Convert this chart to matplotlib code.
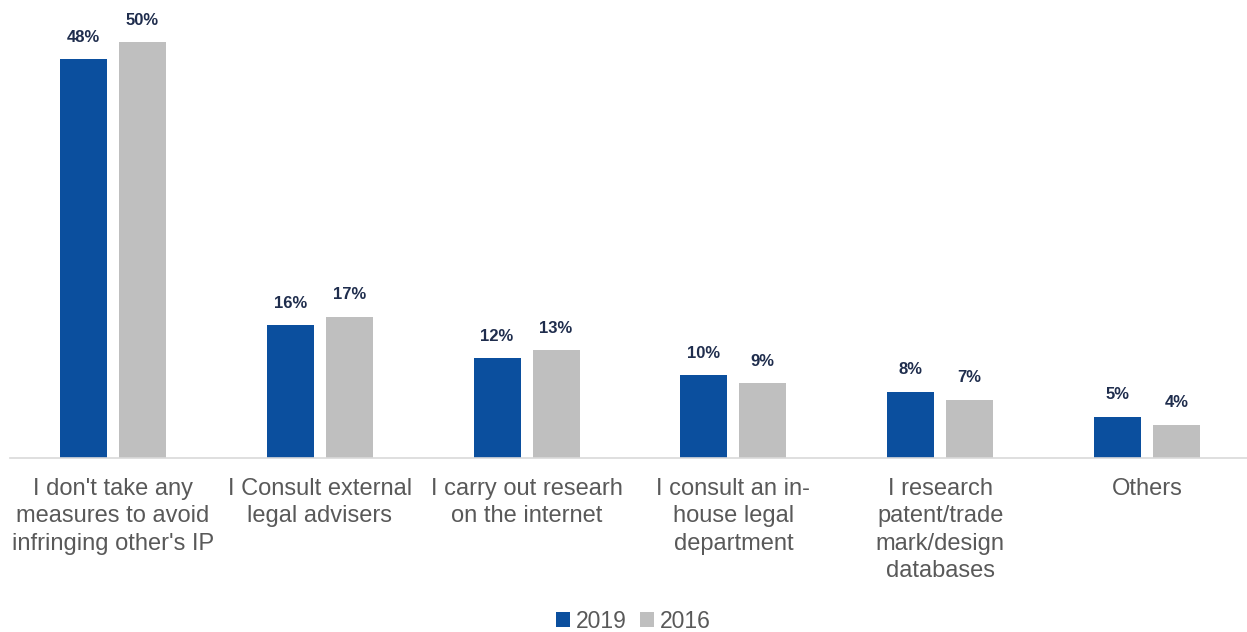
import matplotlib.pyplot as plt
import numpy as np

plt.rcParams['font.family'] = ['Liberation Sans', 'DejaVu Sans']

categories = [
    "I don't take any\nmeasures to avoid\ninfringing other's IP",
    "I Consult external\nlegal advisers",
    "I carry out researh\non the internet",
    "I consult an in-\nhouse legal\ndepartment",
    "I research\npatent/trade\nmark/design\ndatabases",
    "Others",
]
series_names = ["2019", "2016"]
values_2019 = [48, 16, 12, 10, 8, 5]
values_2016 = [50, 17, 13, 9, 7, 4]

colors = ["#0B4F9E", "#BFBFBF"]
label_color = "#1F2D4D"
text_color = "#595959"

fig = plt.figure(figsize=(12.47, 6.32), dpi=100)
ax = fig.add_axes([0.0077, 0.275, 0.995, 0.725])

x = np.arange(len(categories))
width = 0.227
offset = 0.1425

for vals, name, col, sgn in zip([values_2019, values_2016], series_names, colors, [-1, 1]):
    bars = ax.bar(x + sgn * offset, vals, width, color=col, label=name)
    for b, v in zip(bars, vals):
        ax.annotate(f"{v}%", (b.get_x() + b.get_width() / 2, v),
                    xytext=(0, 22), textcoords="offset pixels",
                    ha="center", va="center", fontsize=12, fontweight="bold",
                    color=label_color)

ax.set_xlim(-0.5, len(categories) - 0.5)
ax.set_ylim(0, 55.1)
ax.set_yticks([])
ax.set_xticks(x)
ax.set_xticklabels(categories, fontsize=17, color=text_color, linespacing=1.32, va="top")
ax.tick_params(axis="x", length=0, pad=14)
for s in ["top", "right", "left"]:
    ax.spines[s].set_visible(False)
ax.spines["bottom"].set_color("#D9D9D9")
ax.spines["bottom"].set_linewidth(1.2)

leg = fig.legend(loc="center", bbox_to_anchor=(0.508, 0.017), ncol=2, frameon=False,
                 fontsize=16.5, handlelength=0.6, handleheight=0.6, handletextpad=0.25,
                 columnspacing=0.6, labelcolor=text_color)

fig.savefig("out.png", dpi=100)
